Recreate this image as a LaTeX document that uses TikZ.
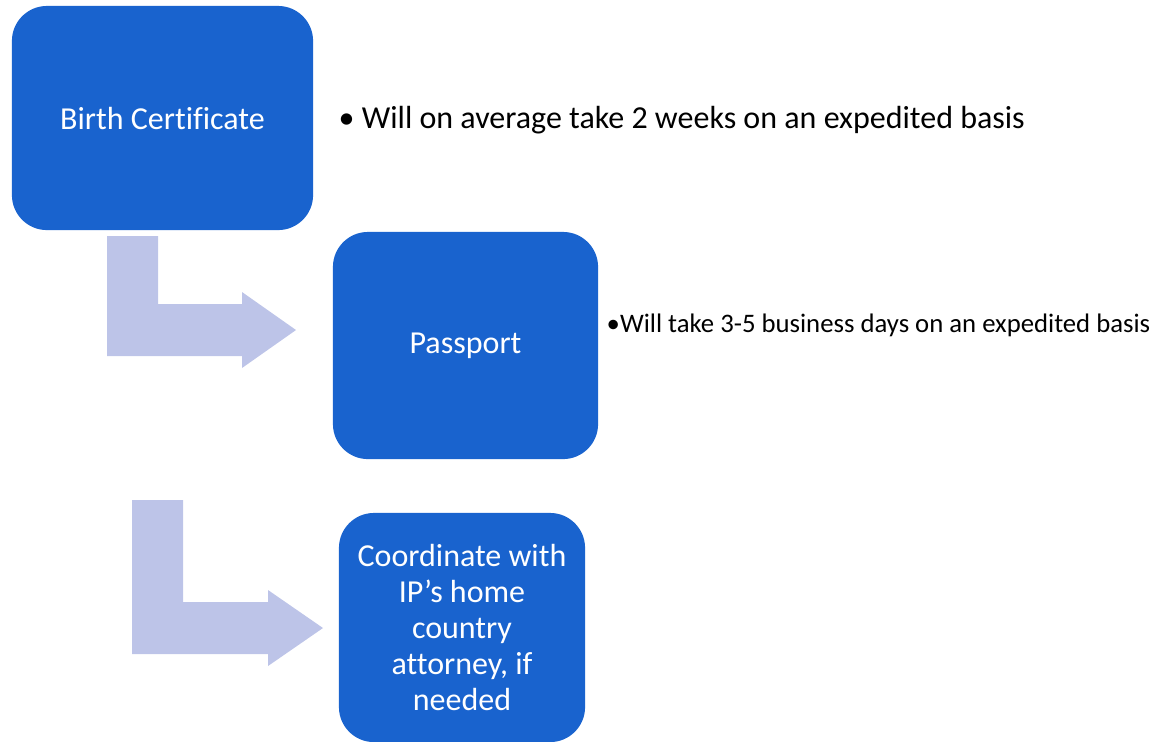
\documentclass[tikz,border=0pt]{standalone}
\usepackage{fontspec}
\setmainfont{Carlito}[Ligatures=NoCommon]
\usepackage{tikz}

\definecolor{boxblue}{RGB}{25,99,206}
\definecolor{arrowblue}{RGB}{189,196,232}

\begin{document}
\begin{tikzpicture}[x=0.01cm,y=-0.01cm,
  step box/.style={fill=boxblue,rounded corners=0.35cm,text=white,align=center,
    font=\fontsize{9.1pt}{10.2pt}\selectfont,inner sep=0pt},
  note/.style={anchor=west,inner sep=0pt}]
  \useasboundingbox (0,0) rectangle (1158,741);
  \fill[arrowblue] (107,236) -- (158,236) -- (158,304) -- (242,304) -- (242,292)
    -- (296,330) -- (242,368) -- (242,356) -- (107,356) -- cycle;
  \fill[arrowblue] (132,500) -- (183,500) -- (183,602) -- (268,602) -- (268,590)
    -- (323,628) -- (268,666) -- (268,654) -- (132,654) -- cycle;
  \node[step box,minimum width=3.01cm,minimum height=2.24cm] (birth) at (162.5,118) {Birth Certificate};
  \node[step box,minimum width=2.65cm,minimum height=2.27cm] (passport) at (465.5,345.5) {Passport};
  \node[step box,minimum width=2.46cm,minimum height=2.29cm] (attorney) at (462,627.5)
    {Coordinate with\\IP’s home\\country\\attorney, if\\needed};
  \node[note,font=\fontsize{9.1pt}{10.2pt}\selectfont] (birthnote) at (338,120)
    {\textbullet\ Will on average take 2 weeks on an expedited basis};
  \node[note,font=\fontsize{7.6pt}{9pt}\selectfont] (passportnote) at (606,325)
    {\textbullet Will take 3-5 business days on an expedited basis};
\end{tikzpicture}
\end{document}
